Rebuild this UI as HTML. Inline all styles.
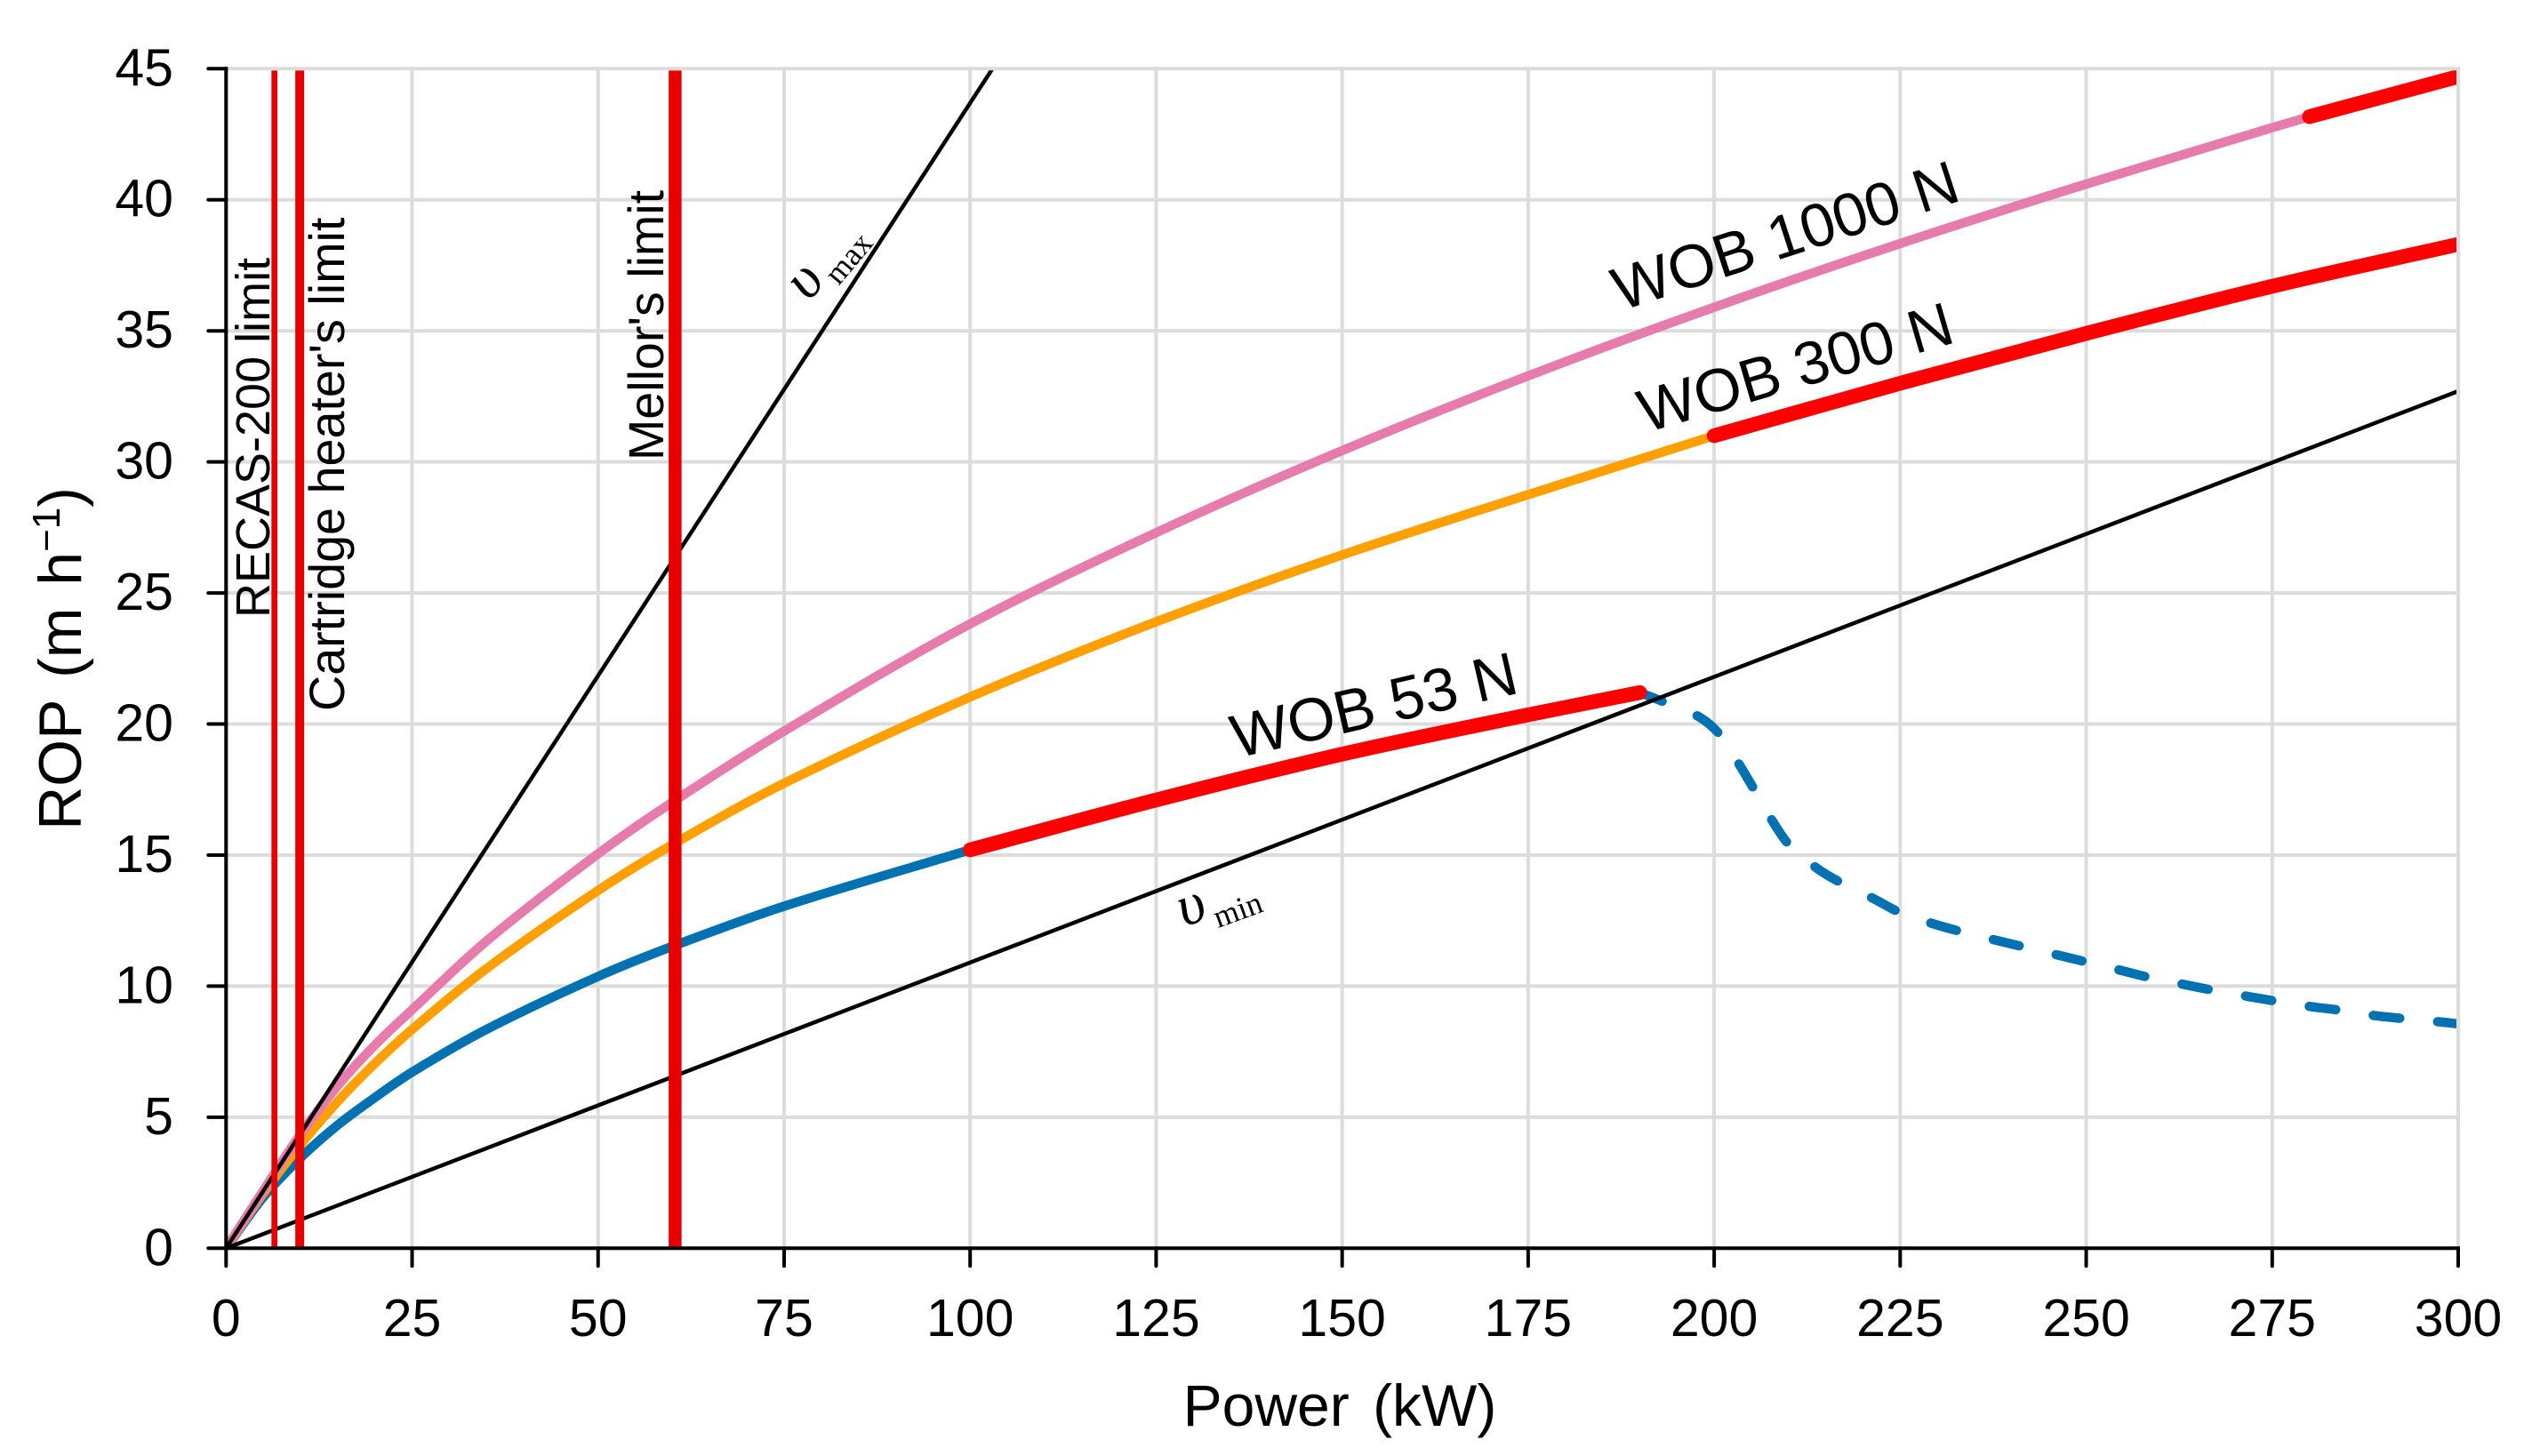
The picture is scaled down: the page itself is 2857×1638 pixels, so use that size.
<!DOCTYPE html>
<html>
<head>
<meta charset="utf-8">
<title>ROP versus power</title>
<style>
html,body{margin:0;padding:0;background:#fff;width:2857px;height:1638px;overflow:hidden}
svg{display:block}
text{font-family:"Liberation Sans",sans-serif;fill:#000}
.serif{font-family:"Liberation Serif",serif}
</style>
</head>
<body>
<svg id="chart" xmlns="http://www.w3.org/2000/svg" width="2857" height="1638" viewBox="0 0 2857 1638">
<defs><clipPath id="plot-clip"><rect x="254" y="79.3" width="2509" height="1326"/></clipPath></defs>
<rect width="2857" height="1638" fill="#fff"/>
<g id="grid"></g>
<g id="curves" clip-path="url(#plot-clip)"></g>
<g id="axes"></g>
<text x="1507" y="1604" font-size="66" text-anchor="middle" word-spacing="8">Power (kW)</text>
<text transform="translate(91 741) rotate(-90)" font-size="68" text-anchor="middle" word-spacing="6">ROP (m h<tspan font-size="44" dy="-24">−1</tspan><tspan dy="24">)</tspan></text>
<text transform="translate(303 695) rotate(-90)" font-size="54">RECAS-200 limit</text>
<text transform="translate(387 800) rotate(-90)" font-size="55.7">Cartridge heater's limit</text>
<text transform="translate(746 518) rotate(-90)" font-size="55.6">Mellor's limit</text>
<text transform="translate(1823 350) rotate(-18)" font-size="68.7">WOB 1000 N</text>
<text transform="translate(1851 487) rotate(-16.3)" font-size="68.4">WOB 300 N</text>
<text transform="translate(1391 853) rotate(-13)" font-size="68.6">WOB 53 N</text>
<text class="serif" transform="translate(910 340) rotate(-50)" font-size="66"><tspan font-style="italic">υ</tspan><tspan font-size="36" dx="5" dy="14">max</tspan></text>
<text class="serif" transform="translate(1332 1043) rotate(-20)" font-size="66"><tspan font-style="italic">υ</tspan><tspan font-size="36" dx="5" dy="14">min</tspan></text>
</svg>
<script>
const xTicks = [0,25,50,75,100,125,150,175,200,225,250,275,300];
const yTicks = [0,5,10,15,20,25,30,35,40,45];

const wob53Power = [0,5,10,15,20,25,35,50,60,75,100,125,150,175,190,193.6,198.1,200.9,203.5,205.5,207.9,210.1,213.8,217.2,221.4,224.9,229.3,233.2,237.9,241.6,246.4,250.2,254.7,258.5,263.2,267.1,271.7,275.6,280.2,284.4,288.9,292.8,297.4,300];
const wob53Rop = [0,1.95,3.45,4.7,5.75,6.72,8.35,10.37,11.52,13.05,15.2,17.1,18.85,20.35,21.2,20.8,20.25,19.55,18.4,17.44,16.27,15.38,14.5,13.92,13.34,12.82,12.39,12.08,11.75,11.5,11.17,10.91,10.6,10.33,10.06,9.84,9.61,9.42,9.22,9.07,8.87,8.76,8.64,8.56];
const wob53SafeFrom = 100;
const wob53SafeTo = 190;

const wob300Power = [0,5,10,15,20,25,35,50,60,75,100,125,150,175,200,225,250,275,300];
const wob300Rop = [0,2.1,3.95,5.6,7.05,8.35,10.67,13.65,15.4,17.74,21.03,23.9,26.45,28.75,31.0,33.0,34.9,36.7,38.3];
const wob300SafeFrom = 200;
const wob300SafeTo = 300;

const wob1000Power = [0,5,10,15,20,25,35,50,60,75,100,125,150,175,200,225,250,275,280,300];
const wob1000Rop = [0,2.2,4.35,6.2,7.75,9.1,11.72,15.05,17.02,19.73,23.82,27.3,30.43,33.28,35.9,38.33,40.6,42.75,43.17,44.7];
const wob1000SafeFrom = 280;
const wob1000SafeTo = 300;

const vMaxPower = [0,103];
const vMaxRop = [0,45];
const vMinPower = [0,300];
const vMinRop = [0,32.7];

const limitNames = ['recas-200-limit','cartridge-heater-limit','mellor-limit'];
const limitPower = [6.5,9.9,60.35];

const SVGNS = 'http://www.w3.org/2000/svg';
const X = v => 254.3 + v * (2765 - 254.3) / 300;
const Y = v => 1404.3 - v * (1404.3 - 77.3) / 45;

function mk(tag, parent, attrs) {
  const el = document.createElementNS(SVGNS, tag);
  for (const k in attrs) el.setAttribute(k, attrs[k]);
  parent.appendChild(el);
  return el;
}
function smoothPath(xs, ys) {
  const n = xs.length;
  if (n < 3) return 'M' + X(xs[0]) + ' ' + Y(ys[0]) + 'L' + X(xs[1]) + ' ' + Y(ys[1]);
  const m = xs.map((x, i) => {
    const a = Math.max(i - 1, 0), b = Math.min(i + 1, n - 1);
    return (ys[b] - ys[a]) / (xs[b] - xs[a]);
  });
  let d = 'M' + X(xs[0]) + ' ' + Y(ys[0]);
  for (let i = 0; i < n - 1; i++) {
    const h = (xs[i + 1] - xs[i]) / 3;
    d += 'C' + X(xs[i] + h) + ' ' + Y(ys[i] + m[i] * h) + ' ' +
         X(xs[i + 1] - h) + ' ' + Y(ys[i + 1] - m[i + 1] * h) + ' ' +
         X(xs[i + 1]) + ' ' + Y(ys[i + 1]);
  }
  return d;
}
function slice(xs, ys, lo, hi) {
  const ox = [], oy = [];
  xs.forEach((x, i) => { if (x >= lo && x <= hi) { ox.push(x); oy.push(ys[i]); } });
  return [ox, oy];
}

const grid = document.getElementById('grid');
const axes = document.getElementById('axes');
const curves = document.getElementById('curves');

yTicks.forEach(v => {
  const g = mk('line', grid, {x1: X(0), x2: X(300) + 2, y1: Y(v), y2: Y(v), stroke: '#dcdcdc', 'stroke-width': 4});
  
  
  const t = mk('line', axes, {x1: X(0) - 20, x2: X(0), y1: Y(v), y2: Y(v), stroke: '#000', 'stroke-width': 4, 'stroke-linecap': 'round'});
  
  
  const l = mk('text', axes, {x: 195, y: Y(v) + 19, 'font-size': 59, 'text-anchor': 'end'});
  l.textContent = v;
  
  
});
xTicks.forEach(v => {
  const g = mk('line', grid, {x1: X(v), x2: X(v), y1: Y(45) - 2, y2: Y(0), stroke: '#dcdcdc', 'stroke-width': 4});
  
  
  const t = mk('line', axes, {x1: X(v), x2: X(v), y1: Y(0), y2: Y(0) + 20, stroke: '#000', 'stroke-width': 4, 'stroke-linecap': 'round'});
  
  
  const l = mk('text', axes, {x: X(v), y: 1503, 'font-size': 59, 'text-anchor': 'middle'});
  l.textContent = v;
  
  
});
const axisX = mk('line', axes, {x1: X(0), x2: X(300) + 2, y1: Y(0), y2: Y(0), stroke: '#000', 'stroke-width': 4});


const axisY = mk('line', axes, {x1: X(0), x2: X(0), y1: Y(45) - 2, y2: Y(0), stroke: '#000', 'stroke-width': 4});



function drawPart(name, xs, ys, color, width, cap, dash, offset) {
  const el = mk('path', curves, {d: smoothPath(xs, ys), fill: 'none', stroke: color, 'stroke-width': width, 'stroke-linecap': cap, 'stroke-linejoin': 'round'});
  if (dash) el.setAttribute('stroke-dasharray', dash);
  if (offset) el.setAttribute('stroke-dashoffset', offset);
  
  
}

const blue = '#0072b2', orange = '#ff9f00', pink = '#e57cac', red = '#ff0000';
let s;
s = slice(wob53Power, wob53Rop, 0, wob53SafeFrom);
drawPart('wob-53-line', s[0], s[1], blue, 10.5, 'butt');
s = slice(wob53Power, wob53Rop, wob53SafeTo, 300);
drawPart('wob-53-dashed-line', s[0], s[1], blue, 10.5, 'round', '30 42.7', 3);
s = slice(wob300Power, wob300Rop, 0, wob300SafeFrom);
drawPart('wob-300-line', s[0], s[1], orange, 10.5, 'butt');
s = slice(wob1000Power, wob1000Rop, 0, wob1000SafeFrom);
drawPart('wob-1000-line', s[0], s[1], pink, 10.5, 'butt');
s = slice(wob53Power, wob53Rop, wob53SafeFrom, wob53SafeTo);
drawPart('wob-53-limit-segment', s[0], s[1], red, 16.5, 'round');
s = slice(wob300Power, wob300Rop, wob300SafeFrom, wob300SafeTo);
drawPart('wob-300-limit-segment', s[0], s[1], red, 16.5, 'round');
s = slice(wob1000Power, wob1000Rop, wob1000SafeFrom, wob1000SafeTo);
drawPart('wob-1000-limit-segment', s[0], s[1], red, 16.5, 'round');
drawPart('v-max-line', vMaxPower, vMaxRop, '#000', 4.5, 'butt');
drawPart('v-min-line', vMinPower, vMinRop, '#000', 4.5, 'butt');

const limitWidths = [6.7, 10, 14.5];
limitPower.forEach((v, i) => {
  const el = mk('line', curves, {x1: X(v), x2: X(v), y1: 79.3, y2: 1402.7, stroke: '#e60000', 'stroke-width': limitWidths[i]});
  
  
});
</script>
</body>
</html>
